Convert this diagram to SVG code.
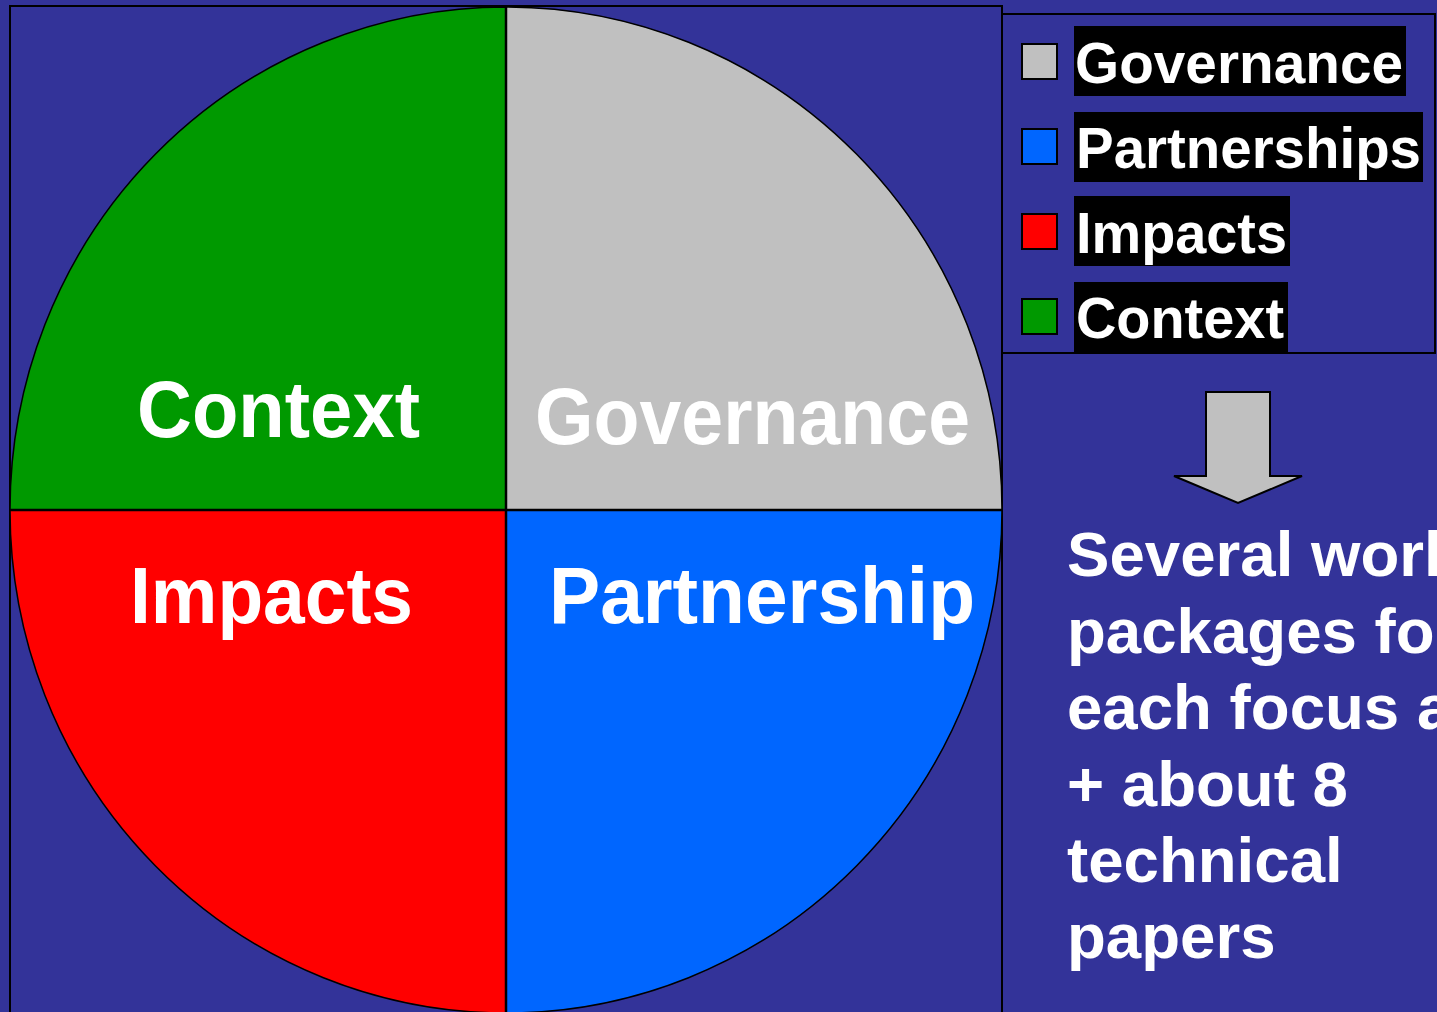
<svg xmlns="http://www.w3.org/2000/svg" width="1437" height="1012" viewBox="0 0 1437 1012">
<style>
.bg{fill:#333399}
.frame{fill:none;stroke:#000;stroke-width:2}
.wedge{stroke:#000;stroke-width:1.5}
.div{stroke:#000;stroke-width:2.5}
.pl{font-family:"Liberation Sans",Arial,sans-serif;font-weight:bold;fill:#fff;font-size:79px}
.lg{font-family:"Liberation Sans",Arial,sans-serif;font-weight:bold;fill:#fff;font-size:57px}
.sw{stroke:#000;stroke-width:2}
.lbg{fill:#000}
.tx{font-family:"Liberation Sans",Arial,sans-serif;font-weight:bold;fill:#fff;font-size:63.6px}
</style>
<rect class="bg" x="0" y="0" width="1437" height="1012"/>
<rect class="frame" x="10" y="6" width="992" height="1020"/>
<g id="pie">
  <path id="governance-wedge" class="wedge" fill="#C0C0C0" d="M506,510 L506,7 A496,503 0 0 1 1002,510 Z"/>
  <path id="partnership-wedge" class="wedge" fill="#0066FF" d="M506,510 L1002,510 A496,503 0 0 1 506,1013 Z"/>
  <path id="impacts-wedge" class="wedge" fill="#FF0000" d="M506,510 L506,1013 A496,503 0 0 1 10,510 Z"/>
  <path id="context-wedge" class="wedge" fill="#009900" d="M506,510 L10,510 A496,503 0 0 1 506,7 Z"/>
  <line class="div" x1="506" y1="7" x2="506" y2="1013"/>
  <line class="div" x1="10" y1="510" x2="1002" y2="510"/>
  <text class="pl" x="137" y="437" textLength="283" lengthAdjust="spacingAndGlyphs">Context</text>
  <text class="pl" x="535" y="444" textLength="435" lengthAdjust="spacingAndGlyphs">Governance</text>
  <text class="pl" x="130" y="623" textLength="283" lengthAdjust="spacingAndGlyphs">Impacts</text>
  <text class="pl" x="549" y="623" textLength="426" lengthAdjust="spacingAndGlyphs">Partnership</text>
</g>
<g id="legend">
  <rect class="frame" x="1002" y="14" width="433" height="339"/>
  <rect class="sw" fill="#C0C0C0" x="1022" y="44" width="35" height="35"/>
  <rect class="lbg" x="1074" y="26" width="332" height="70"/>
  <text class="lg" x="1075" y="83" textLength="328" lengthAdjust="spacingAndGlyphs">Governance</text>
  <rect class="sw" fill="#0066FF" x="1022" y="129" width="35" height="35"/>
  <rect class="lbg" x="1074" y="112" width="349" height="70"/>
  <text class="lg" x="1076" y="168" textLength="345" lengthAdjust="spacingAndGlyphs">Partnerships</text>
  <rect class="sw" fill="#FF0000" x="1022" y="214" width="35" height="35"/>
  <rect class="lbg" x="1074" y="196" width="216" height="70"/>
  <text class="lg" x="1076" y="253" textLength="211" lengthAdjust="spacingAndGlyphs">Impacts</text>
  <rect class="sw" fill="#009900" x="1022" y="299" width="35" height="35"/>
  <rect class="lbg" x="1074" y="282" width="214" height="70"/>
  <text class="lg" x="1076" y="338" textLength="208" lengthAdjust="spacingAndGlyphs">Context</text>
</g>
<g id="arrow">
  <polygon fill="#C0C0C0" stroke="#000" stroke-width="2" points="1206,392 1270,392 1270,476 1302,476 1238,503 1174,476 1206,476"/>
</g>
<g id="note">
  <text class="tx" x="1067" y="576">Several work</text>
  <text class="tx" x="1067" y="653">packages for</text>
  <text class="tx" x="1067" y="729">each focus area</text>
  <text class="tx" x="1067" y="806">+ about 8</text>
  <text class="tx" x="1067" y="882">technical</text>
  <text class="tx" x="1067" y="958">papers</text>
</g>
</svg>
